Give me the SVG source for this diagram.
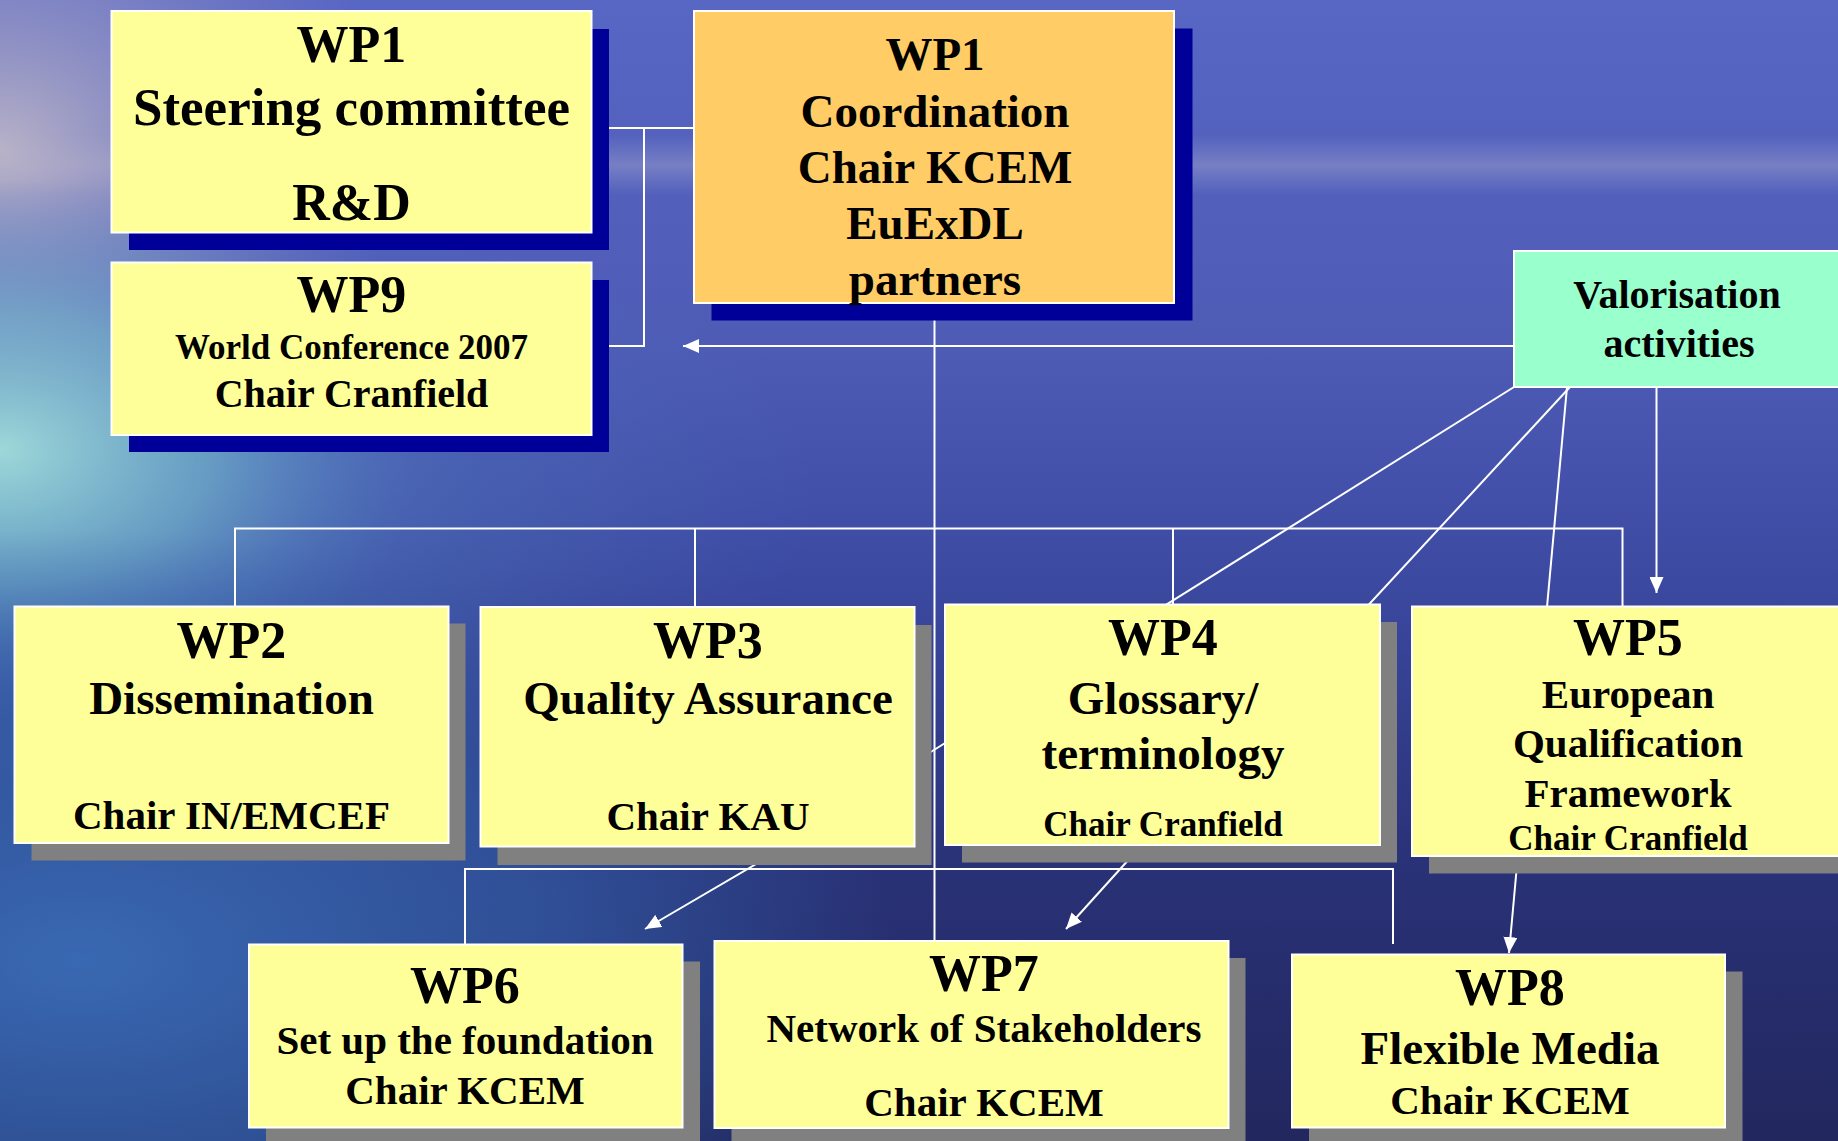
<svg xmlns="http://www.w3.org/2000/svg" width="1838" height="1141" viewBox="0 0 1838 1141">
<defs>
<linearGradient id="bgV" x1="0" y1="0" x2="0" y2="1">
<stop offset="0" stop-color="#5866c4"/>
<stop offset="0.3" stop-color="#4e5cb6"/>
<stop offset="0.5" stop-color="#3c4aa2"/>
<stop offset="0.75" stop-color="#2a3278"/>
<stop offset="1" stop-color="#22275e"/>
</linearGradient>
<radialGradient id="cyan" cx="0" cy="0" r="1" gradientUnits="userSpaceOnUse" gradientTransform="translate(0 450) scale(430 270)">
<stop offset="0" stop-color="#a6e2dc" stop-opacity="0.9"/>
<stop offset="0.5" stop-color="#78bccc" stop-opacity="0.55"/>
<stop offset="1" stop-color="#4a78c0" stop-opacity="0"/>
</radialGradient>
<radialGradient id="cyan2" cx="0" cy="0" r="1" gradientUnits="userSpaceOnUse" gradientTransform="translate(0 500) scale(820 320)">
<stop offset="0" stop-color="#6aaed0" stop-opacity="0.55"/>
<stop offset="1" stop-color="#4a78c0" stop-opacity="0"/>
</radialGradient>
<radialGradient id="lav" cx="0" cy="0" r="1" gradientUnits="userSpaceOnUse" gradientTransform="translate(0 150) scale(400 330)">
<stop offset="0" stop-color="#bdb6c8" stop-opacity="0.95"/>
<stop offset="1" stop-color="#9090c0" stop-opacity="0"/>
</radialGradient>
<radialGradient id="water" cx="0" cy="0" r="1" gradientUnits="userSpaceOnUse" gradientTransform="translate(80 960) scale(820 430)">
<stop offset="0" stop-color="#3a6cb6" stop-opacity="0.95"/>
<stop offset="0.6" stop-color="#3462ac" stop-opacity="0.6"/>
<stop offset="1" stop-color="#3060a8" stop-opacity="0"/>
</radialGradient>
<linearGradient id="haze" x1="0" y1="0" x2="0" y2="1">
<stop offset="0" stop-color="#a0a4d0" stop-opacity="0"/>
<stop offset="0.5" stop-color="#aaa8cc" stop-opacity="0.42"/>
<stop offset="1" stop-color="#a0a4d0" stop-opacity="0"/>
</linearGradient>
<marker id="ah" markerUnits="userSpaceOnUse" markerWidth="16" markerHeight="14" refX="16" refY="7" orient="auto">
<path d="M0,0 L16,7 L0,14 z" fill="#ffffff"/>
</marker>
<style>
.conn{stroke:#ffffff;stroke-width:2;fill:none}
.arr{stroke:#ffffff;stroke-width:2;fill:none;marker-end:url(#ah)}
.box{fill:#ffff99;stroke:#ffffff;stroke-width:2}
.orange{fill:#ffcc66;stroke:#ffffff;stroke-width:2}
.mint{fill:#99ffcc;stroke:#ffffff;stroke-width:2}
.sh1{fill:#000099}
.sh2{fill:#808080}
text{font-family:"Liberation Serif","Times New Roman",serif;font-weight:bold;fill:#000000;text-anchor:middle}
.t53{font-size:53px}
.t52{font-size:52px}
.t47{font-size:47px}
.t41{font-size:41px}
.t40{font-size:40px}
.t35{font-size:35px}
</style>
</defs>

<g id="background">
<rect x="0" y="0" width="1838" height="1141" fill="url(#bgV)"/>
<rect x="0" y="135" width="1838" height="60" fill="url(#haze)"/>
<rect x="0" y="0" width="1838" height="1141" fill="url(#lav)"/>
<rect x="0" y="0" width="1838" height="1141" fill="url(#cyan2)"/>
<rect x="0" y="0" width="1838" height="1141" fill="url(#cyan)"/>
<rect x="0" y="0" width="1838" height="1141" fill="url(#water)"/>
</g>

<g id="connectors">
<polyline class="conn" points="591,128 694,128"/>
<polyline class="conn" points="644,128 644,346 591,346"/>
<line class="arr" x1="1514" y1="346" x2="683" y2="346"/>
<line class="conn" x1="934.5" y1="302" x2="934.5" y2="941"/>
<polyline class="conn" points="235,606 235,528.5 1622.5,528.5 1622.5,606"/>
<line class="conn" x1="695" y1="528.5" x2="695" y2="607"/>
<line class="conn" x1="1173" y1="528.5" x2="1173" y2="605"/>
<polyline class="conn" points="465,944 465,869 1393,869 1393,944"/>
<line class="conn" x1="1514" y1="387" x2="918" y2="760"/>
<line class="conn" x1="1570" y1="387" x2="1300" y2="679"/>
<line class="conn" x1="1567" y1="387" x2="1544" y2="640"/>
<line class="arr" x1="1656.5" y1="387" x2="1656.5" y2="593"/>
<line class="arr" x1="780" y1="850" x2="645" y2="929"/>
<line class="arr" x1="1131" y1="857" x2="1066" y2="929"/>
<line class="arr" x1="1517" y1="865" x2="1509" y2="953"/>
</g>

<g id="wp1-steering">
<rect class="sh1" x="129" y="29" width="480" height="221"/>
<rect class="box" x="111.5" y="11" width="480" height="221.5"/>
<text class="t52" x="351.5" y="62">WP1</text>
<text class="t53" x="351.5" y="125">Steering committee</text>
<text class="t52" x="351.5" y="220">R&amp;D</text>
</g>

<g id="wp9">
<rect class="sh1" x="129" y="280" width="480" height="172"/>
<rect class="box" x="111.5" y="262.5" width="480" height="172.5"/>
<text class="t52" x="351.5" y="312">WP9</text>
<text class="t35" x="351.5" y="359">World Conference 2007</text>
<text class="t40" x="351.5" y="407">Chair Cranfield</text>
</g>

<g id="wp1-coordination">
<rect class="sh1" x="711.5" y="28.5" width="481" height="292"/>
<rect class="orange" x="694" y="11" width="480" height="292"/>
<text class="t47" x="935" y="70">WP1</text>
<text class="t47" x="935" y="127">Coordination</text>
<text class="t47" x="935" y="183">Chair KCEM</text>
<text class="t47" x="935" y="239">EuExDL</text>
<text class="t47" x="935" y="295">partners</text>
</g>

<g id="valorisation">
<rect class="mint" x="1514" y="251" width="330" height="136"/>
<text class="t40" x="1677" y="308">Valorisation</text>
<text class="t40" x="1679" y="357">activities</text>
</g>

<g id="wp2">
<rect class="sh2" x="31.5" y="623.5" width="434" height="237"/>
<rect class="box" x="14.5" y="606.5" width="434" height="236.5"/>
<text class="t52" x="231.5" y="658">WP2</text>
<text class="t47" x="231.5" y="714">Dissemination</text>
<text class="t41" x="231.5" y="829">Chair IN/EMCEF</text>
</g>

<g id="wp3">
<rect class="sh2" x="497.5" y="625" width="434" height="240"/>
<rect class="box" x="480.5" y="607" width="434" height="239.5"/>
<text class="t52" x="708" y="658">WP3</text>
<text class="t47" x="708" y="714">Quality Assurance</text>
<text class="t41" x="708" y="830">Chair KAU</text>
</g>

<g id="wp4">
<rect class="sh2" x="962" y="622" width="435" height="240.5"/>
<rect class="box" x="945" y="604.5" width="435" height="240.5"/>
<text class="t52" x="1163" y="655">WP4</text>
<text class="t47" x="1163" y="714">Glossary/</text>
<text class="t47" x="1163" y="769">terminology</text>
<text class="t35" x="1163" y="836">Chair Cranfield</text>
</g>

<g id="wp5">
<rect class="sh2" x="1429" y="623.5" width="432" height="250"/>
<rect class="box" x="1412" y="606.5" width="432" height="249.5"/>
<text class="t52" x="1628" y="655">WP5</text>
<text class="t41" x="1628" y="708">European</text>
<text class="t41" x="1628" y="757">Qualification</text>
<text class="t41" x="1628" y="807">Framework</text>
<text class="t35" x="1628" y="850">Chair Cranfield</text>
</g>

<g id="wp6">
<rect class="sh2" x="266" y="961.5" width="434" height="200"/>
<rect class="box" x="249" y="944.5" width="433.5" height="183"/>
<text class="t52" x="465" y="1003">WP6</text>
<text class="t41" x="465" y="1054">Set up the foundation</text>
<text class="t41" x="465" y="1104">Chair KCEM</text>
</g>

<g id="wp7">
<rect class="sh2" x="731.5" y="958" width="514" height="200"/>
<rect class="box" x="714.5" y="941" width="514" height="187"/>
<text class="t52" x="984" y="991">WP7</text>
<text class="t41" x="984" y="1042">Network of Stakeholders</text>
<text class="t41" x="984" y="1116">Chair KCEM</text>
</g>

<g id="wp8">
<rect class="sh2" x="1309" y="971.5" width="433.5" height="200"/>
<rect class="box" x="1292" y="954.5" width="433" height="173"/>
<text class="t52" x="1510" y="1005">WP8</text>
<text class="t47" x="1510" y="1064">Flexible Media</text>
<text class="t41" x="1510" y="1114">Chair KCEM</text>
</g>
</svg>
